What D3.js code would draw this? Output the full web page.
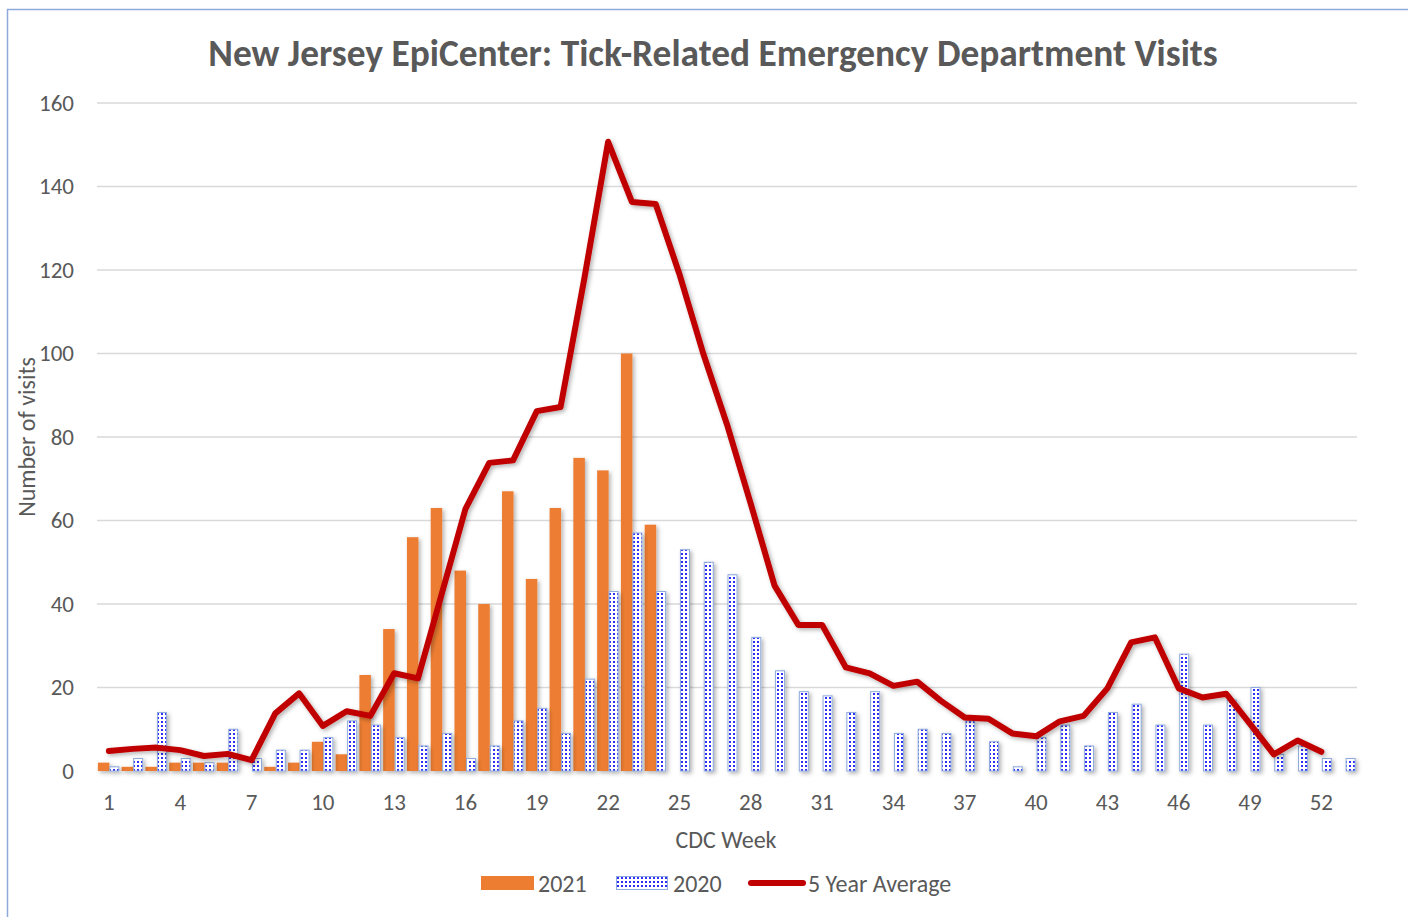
<!DOCTYPE html>
<html>
<head>
<meta charset="utf-8">
<script src="https://cdn.jsdelivr.net/npm/d3@7"></script>
<style>
  body { margin: 0; background: #fff; }
  svg text { font-family: Carlito, Lato, "Open Sans", sans-serif; fill: #595959; }
</style>
</head>
<body>
<svg id="chart" width="1408" height="917"></svg>
<script>
var weeks = [1,2,3,4,5,6,7,8,9,10,11,12,13,14,15,16,17,18,19,20,21,22,23,24,25,26,
             27,28,29,30,31,32,33,34,35,36,37,38,39,40,41,42,43,44,45,46,47,48,49,50,51,52,53];
var visits2021 = [2,1,1,2,2,2,0,1,2,7,4,23,34,56,63,48,40,67,46,63,75,72,100,59];
var visits2020 = [1,3,14,3,2,10,3,5,5,8,12,11,8,6,9,3,6,12,15,9,22,43,57,43,53,50,47,32,24,19,
                  18,14,19,9,10,9,12,7,1,8,11,6,14,16,11,28,11,17,20,4,6,3,3];
var avg5 = [4.8,5.3,5.6,5.0,3.6,4.1,2.6,13.8,18.6,10.8,14.3,13.2,23.4,22.2,42.4,62.8,73.8,74.4,86.2,87.2,
            118,150.7,136.3,135.8,119,100,83,64,44.4,35,35,24.8,23.4,20.4,21.4,16.8,12.8,12.5,9,8.3,
            11.9,13.2,19.8,30.8,32,19.8,17.6,18.5,11.3,4,7.3,4.6];
var yTicks = [0,20,40,60,80,100,120,140,160];
var xTickLabels = [1,4,7,10,13,16,19,22,25,28,31,34,37,40,43,46,49,52];

var svg = d3.select("#chart");
var plotLeft = 97, plotRight = 1357, plotTop = 103, plotBottom = 771;

var x = d3.scaleBand().domain(weeks).range([plotLeft, plotRight]);
var y = d3.scaleLinear().domain([0, 160]).range([plotBottom, plotTop]);
var bw = x.bandwidth();

var defs = svg.append("defs");
var pat = defs.append("pattern")
  .attr("id", "dots").attr("patternUnits", "userSpaceOnUse")
  .attr("width", 4).attr("height", 4);
pat.append("rect").attr("width", 4).attr("height", 4).attr("fill", "#fff");
pat.append("rect").attr("x", 1).attr("y", 1).attr("width", 2).attr("height", 2).attr("fill", "#2e2ef5");

var shadow = defs.append("filter").attr("id", "shadow")
  .attr("x", "-50%").attr("y", "-10%").attr("width", "200%").attr("height", "130%");
shadow.append("feDropShadow").attr("dx", 2).attr("dy", 2).attr("stdDeviation", 2)
  .attr("flood-color", "#000").attr("flood-opacity", 0.3);

// frame (only top and left edges show in the picture)
svg.append("rect").attr("x", 7.5).attr("y", 9.5).attr("width", 1420).attr("height", 930)
  .attr("fill", "none").attr("stroke", "#8eaadb").attr("stroke-width", 1.5);

// title
svg.append("text").attr("x", 713).attr("y", 66).attr("text-anchor", "middle")
  .style("font-size", "37.4px").style("font-weight", "bold")
  .text("New Jersey EpiCenter: Tick-Related Emergency Department Visits");

// gridlines
svg.append("g").selectAll("line").data(yTicks.slice(1)).enter().append("line")
  .attr("x1", plotLeft).attr("x2", plotRight)
  .attr("y1", function(d) { return y(d); }).attr("y2", function(d) { return y(d); })
  .attr("stroke", "#d9d9d9").attr("stroke-width", 1.5);

// y axis
var yAxis = svg.append("g").attr("transform", "translate(" + 82 + ",0)")
  .call(d3.axisLeft(y).tickValues(yTicks).tickSize(0).tickPadding(8));
yAxis.select(".domain").remove();
yAxis.selectAll("text").style("font-size", "23px").attr("fill", "#595959");

// bars 2021
svg.append("g").attr("filter", "url(#shadow)").selectAll("rect")
  .data(visits2021).enter().append("rect")
  .attr("x", function(d, i) { return x(weeks[i]) + bw / 2 - 11; })
  .attr("y", function(d) { return y(d); })
  .attr("width", 11.5)
  .attr("height", function(d) { return plotBottom - y(d); })
  .attr("fill", "#ed7d31");

// bars 2020
svg.append("g").attr("filter", "url(#shadow)").selectAll("rect")
  .data(visits2020).enter().append("rect")
  .attr("x", function(d, i) { return x(weeks[i]) + bw / 2 + 1; })
  .attr("y", function(d) { return y(d); })
  .attr("width", 9)
  .attr("height", function(d) { return plotBottom - y(d); })
  .attr("fill", "url(#dots)")
  .attr("stroke", "#8faadc").attr("stroke-width", 1);

// x axis line
svg.append("line").attr("x1", plotLeft).attr("x2", plotRight).attr("y1", plotBottom + 1).attr("y2", plotBottom + 1)
  .attr("stroke", "#d0d0d0").attr("stroke-width", 2.5).attr("filter", "url(#shadow)");

// x axis labels
var xAxis = svg.append("g").attr("transform", "translate(0," + (plotBottom + 12) + ")")
  .call(d3.axisBottom(x).tickValues(xTickLabels).tickSize(0).tickPadding(11));
xAxis.select(".domain").remove();
xAxis.selectAll("text").style("font-size", "23px").attr("fill", "#595959");

// 5 year average line
var line = d3.line()
  .x(function(d, i) { return x(weeks[i]) + bw / 2; })
  .y(function(d) { return y(d); });
svg.append("path").datum(avg5).attr("d", line)
  .attr("fill", "none").attr("stroke", "#c00000").attr("stroke-width", 6)
  .attr("stroke-linejoin", "round").attr("stroke-linecap", "round")
  .attr("filter", "url(#shadow)");

// axis titles
svg.append("text").attr("x", 726).attr("y", 848).attr("text-anchor", "middle")
  .style("font-size", "24px").text("CDC Week");
svg.append("text").attr("transform", "translate(35,437) rotate(-90)").attr("text-anchor", "middle")
  .style("font-size", "24px").text("Number of visits");

// legend
var lg = svg.append("g");
lg.append("rect").attr("x", 481).attr("y", 876).attr("width", 53).attr("height", 14).attr("fill", "#ed7d31");
lg.append("text").attr("x", 538).attr("y", 892).style("font-size", "24px").text("2021");
lg.append("rect").attr("x", 616.5).attr("y", 876.5).attr("width", 51).attr("height", 13)
  .attr("fill", "url(#dots)").attr("stroke", "#8faadc");
lg.append("text").attr("x", 673).attr("y", 892).style("font-size", "24px").text("2020");
lg.append("line").attr("x1", 751).attr("x2", 803).attr("y1", 883).attr("y2", 883)
  .attr("stroke", "#c00000").attr("stroke-width", 6).attr("stroke-linecap", "round");
lg.append("text").attr("x", 808).attr("y", 892).style("font-size", "24px").text("5 Year Average");
</script>
</body>
</html>
